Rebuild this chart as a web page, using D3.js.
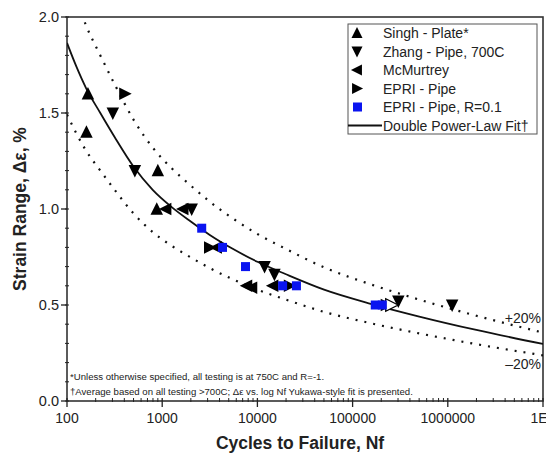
<!DOCTYPE html>
<html><head><meta charset="utf-8">
<script src="https://cdn.jsdelivr.net/npm/d3@7"></script>
<style>body{margin:0;background:#fff;} svg{display:block;font-family:"Liberation Sans",Arial,sans-serif;}</style>
</head><body>
<svg id="chart" width="546" height="457"></svg>
<script>
// ---- data ----
const xTickValues = [100, 1000, 10000, 100000, 1000000, 10000000];
const xTickLabels = ["100", "1000", "10000", "100000", "1000000", "1E7"];
const yTickValues = [0, 0.5, 1.0, 1.5, 2.0];
const yTickLabels = ["0.0", "0.5", "1.0", "1.5", "2.0"];

const singhN = [166, 160, 900, 877];
const singhE = [1.60, 1.40, 1.20, 1.00];

const zhangN = [303, 516, 2040, 11900, 15100, 302000, 1110000];
const zhangE = [1.50, 1.20, 1.00, 0.70, 0.66, 0.52, 0.50];

const mcmN = [1090, 1650, 3700, 7700, 8700, 14500];
const mcmE = [1.00, 1.00, 0.80, 0.60, 0.59, 0.60];

const epriN = [405, 3150, 21700, 226000];
const epriE = [1.60, 0.80, 0.60, 0.50];
const epriOpenN = [255000];
const epriOpenE = [0.50];

const epriR01N = [2600, 4300, 7500, 18400, 25700, 173000, 205000];
const epriR01E = [0.90, 0.80, 0.70, 0.60, 0.60, 0.50, 0.50];

// double power-law fit curve, read at log10(Nf) positions
const fitLogN = [2.00, 2.10, 2.20, 2.35, 2.50, 2.70, 2.90, 3.10, 3.30, 3.50, 3.75, 4.00, 4.30, 4.70, 5.20, 5.70, 6.30, 7.00];
const fitE    = [1.865, 1.74, 1.63, 1.50, 1.375, 1.22, 1.10, 1.01, 0.935, 0.865, 0.79, 0.725, 0.66, 0.58, 0.505, 0.44, 0.37, 0.297];
const bandFactors = [1.2, 0.8];
const bandLabels = ["+20%", "\u201320%"];

const legendLabels = ["Singh - Plate*", "Zhang - Pipe, 700C", "McMurtrey", "EPRI - Pipe", "EPRI - Pipe, R=0.1", "Double Power-Law Fit\u2020"];
const footnotes = ["*Unless otherwise specified, all testing is at 750C and R=-1.",
  "\u2020Average based on all testing >700C; \u0394\u03b5 vs. log Nf Yukawa-style fit is presented."];

// ---- layout ----
const svg = d3.select("#chart");
const L = 67, R = 543, T = 17, B = 401;
const x = d3.scaleLog().domain([100, 1e7]).range([L, R]);
const y = d3.scaleLinear().domain([0, 2]).range([B, T]);

svg.append("defs").append("clipPath").attr("id", "clip")
  .append("rect").attr("x", L).attr("y", T).attr("width", R - L).attr("height", B - T);

// frame
svg.append("rect").attr("x", L).attr("y", T).attr("width", R - L).attr("height", B - T)
  .attr("fill", "none").attr("stroke", "#333").attr("stroke-width", 1.6);

// y axis
const yMinor = d3.range(0, 2.001, 0.1).map(v => +v.toFixed(2));
const yAx = svg.append("g");
yAx.selectAll("line.minor").data(yMinor).join("line")
  .attr("x1", L - 2).attr("x2", L + 2).attr("y1", d => y(d)).attr("y2", d => y(d))
  .attr("stroke", "#222").attr("stroke-width", 1);
yAx.selectAll("line.major").data(yTickValues).join("line")
  .attr("x1", L - 6).attr("x2", L).attr("y1", d => y(d)).attr("y2", d => y(d))
  .attr("stroke", "#222").attr("stroke-width", 1.3);
yAx.selectAll("text").data(yTickValues).join("text")
  .attr("x", L - 8).attr("y", d => y(d)).attr("dy", "0.35em")
  .attr("text-anchor", "end").attr("font-size", 14.5).attr("fill", "#222")
  .text((d, i) => yTickLabels[i]);

// x axis
const xMinor = [];
for (let e = 2; e < 7; e++) for (let m = 2; m <= 9; m++) xMinor.push(m * Math.pow(10, e));
const xAx = svg.append("g");
xAx.selectAll("line.minor").data(xMinor).join("line")
  .attr("x1", d => x(d)).attr("x2", d => x(d)).attr("y1", B - 3).attr("y2", B + 1)
  .attr("stroke", "#222").attr("stroke-width", 1);
xAx.selectAll("line.major").data(xTickValues).join("line")
  .attr("x1", d => x(d)).attr("x2", d => x(d)).attr("y1", B - 3).attr("y2", B + 6)
  .attr("stroke", "#222").attr("stroke-width", 1.3);
xAx.selectAll("text").data(xTickValues).join("text")
  .attr("x", d => x(d)).attr("y", 423)
  .attr("text-anchor", "middle").attr("font-size", 14).attr("fill", "#222")
  .text((d, i) => xTickLabels[i]);

// axis titles
svg.append("text").attr("x", 300).attr("y", 449).attr("text-anchor", "middle")
  .attr("font-size", 17.5).attr("font-weight", "bold").attr("fill", "#222")
  .text("Cycles to Failure, Nf");
svg.append("text").attr("transform", "translate(26,209) rotate(-90)").attr("text-anchor", "middle")
  .attr("font-size", 17.5).attr("font-weight", "bold").attr("fill", "#222")
  .text("Strain Range, \u0394\u03b5, %");

// fit + bands
const fitPts = fitLogN.map((u, i) => [Math.pow(10, u), fitE[i]]);
const line = d3.line().x(d => x(d[0])).y(d => y(d[1])).curve(d3.curveMonotoneX);
const plot = svg.append("g").attr("clip-path", "url(#clip)");
bandFactors.forEach(f => {
  plot.append("path").attr("d", line(fitPts.map(p => [p[0], p[1] * f])))
    .attr("fill", "none").attr("stroke", "#111").attr("stroke-width", 2.2)
    .attr("stroke-dasharray", "2,7");
});
plot.append("path").attr("d", line(fitPts)).attr("fill", "none")
  .attr("stroke", "#111").attr("stroke-width", 1.8);

svg.selectAll("text.band").data(bandLabels).join("text").attr("class", "band")
  .attr("x", 541).attr("y", (d, i) => i === 0 ? 323 : 369)
  .attr("text-anchor", "end").attr("font-size", 14).attr("fill", "#222").text(d => d);

// markers
function tri(dir, s) {
  const a = s * 0.55, b = s * 0.45, w = s / 2;
  if (dir === "up") return `M0,${-a}L${w},${b}L${-w},${b}Z`;
  if (dir === "down") return `M0,${a}L${w},${-b}L${-w},${-b}Z`;
  if (dir === "left") return `M${-a},0L${b},${-w}L${b},${w}Z`;
  return `M${a},0L${-b},${-w}L${-b},${w}Z`;
}
function drawTri(N, E, dir, fill, stroke) {
  plot.append("g").selectAll("path").data(N).join("path")
    .attr("transform", (d, i) => `translate(${x(d)},${y(E[i])})`)
    .attr("d", tri(dir, 12.5)).attr("fill", fill).attr("stroke", stroke || "none").attr("stroke-width", 1.2);
}
drawTri(singhN, singhE, "up", "#000");
drawTri(zhangN, zhangE, "down", "#000");
drawTri(mcmN, mcmE, "left", "#000");
drawTri(epriN, epriE, "right", "#000");
drawTri(epriOpenN, epriOpenE, "right", "#fff", "#000");
plot.append("g").selectAll("rect").data(epriR01N).join("rect")
  .attr("x", d => x(d) - 4.5).attr("y", (d, i) => y(epriR01E[i]) - 4.5)
  .attr("width", 9).attr("height", 9).attr("fill", "#0a14f0");

// legend
const lg = svg.append("g");
lg.append("rect").attr("x", 348).attr("y", 24).attr("width", 189).attr("height", 110)
  .attr("fill", "#fff").attr("stroke", "#555").attr("stroke-width", 1);
const rowY = i => 33 + i * 18.5;
const dirs = ["up", "down", "left", "right"];
dirs.forEach((d, i) => {
  lg.append("path").attr("transform", `translate(357,${rowY(i)})`).attr("d", tri(d, 11)).attr("fill", "#000");
});
lg.append("rect").attr("x", 353).attr("y", rowY(4) - 4.5).attr("width", 9).attr("height", 9).attr("fill", "#0a14f0");
lg.append("line").attr("x1", 348).attr("x2", 382).attr("y1", rowY(5)).attr("y2", rowY(5))
  .attr("stroke", "#111").attr("stroke-width", 1.8);
lg.selectAll("text").data(legendLabels).join("text")
  .attr("x", 383).attr("y", (d, i) => rowY(i)).attr("dy", "0.36em")
  .attr("font-size", 14).attr("fill", "#222").text(d => d);

// footnotes
svg.selectAll("text.fn").data(footnotes).join("text").attr("class", "fn")
  .attr("x", 70).attr("y", (d, i) => 380 + i * 14.5)
  .attr("font-size", 9.6).attr("fill", "#222").text(d => d);
</script>
</body></html>
